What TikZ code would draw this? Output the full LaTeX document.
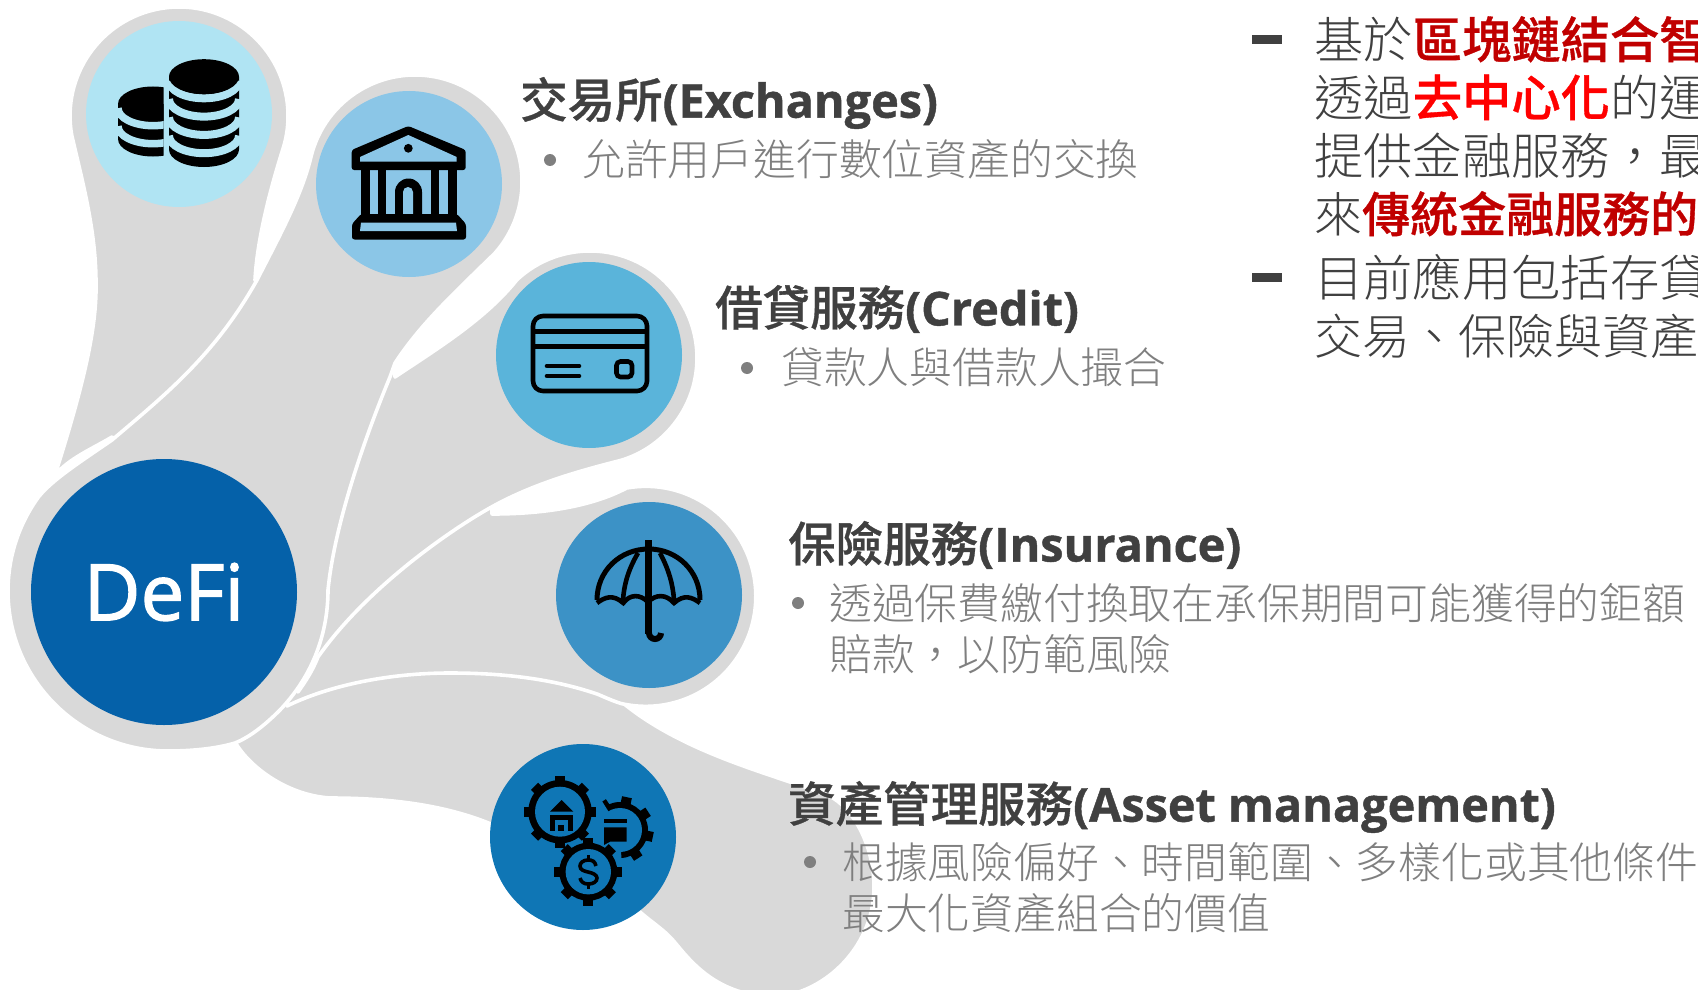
\documentclass[tikz,border=0pt]{standalone}
\usepackage{fontspec}
\setmainfont{Noto Sans CJK TC}[UprightFont=* Light,BoldFont=* Medium,BoldFeatures={FakeBold=0.7}]
\newfontfamily\latn{Open Sans}[FakeBold=0.9]
\newfontfamily\defifont{Open Sans}[FakeBold=1.6]
\definecolor{blobgrey}{HTML}{D9D9D9}
\definecolor{coinblue}{HTML}{B0E4F3}
\definecolor{bankblue}{HTML}{8BC6E7}
\definecolor{cardblue}{HTML}{5AB4DA}
\definecolor{umbblue}{HTML}{3C92C6}
\definecolor{gearblue}{HTML}{0F76B5}
\definecolor{defiblue}{HTML}{0561A9}
\definecolor{headgrey}{HTML}{404040}
\definecolor{subgrey}{HTML}{7F7F7F}
\definecolor{darkred}{HTML}{C00000}
\definecolor{purered}{HTML}{FF0000}
\tikzset{
  blob/.style={fill=blobgrey,draw=white,line width=3.6pt,line join=round},
  disc/.style={circle,minimum size=186pt,inner sep=0pt},
  head/.style={anchor=west,inner sep=0pt,text=headgrey,font=\fontsize{47.5}{56}\selectfont\bfseries},
  sub/.style={anchor=north west,inner sep=0pt,align=left,text=subgrey,font=\fontsize{42.8}{51}\selectfont},
  bigtext/.style={anchor=north west,inner sep=0pt,align=left,text=headgrey,font=\fontsize{48}{58}\selectfont},
  dot/.style={circle,fill=subgrey,minimum size=12pt,inner sep=0pt},
  dashmark/.style={fill=headgrey,minimum width=30pt,minimum height=9pt,inner sep=0pt},
}
\newcommand{\cogwheel}[6]{%
  \foreach \a in {0,45,...,315}{\draw[line width=10pt,black] (#1,#2) -- ++(\a+#6:#5);}
  \fill[black] (#1,#2) circle[radius=#3];
  \fill[gearblue] (#1,#2) circle[radius=#4];
}
\newcommand{\latnhead}[1]{{\latn\fontsize{46.8}{56}\selectfont #1}}
\newcommand{\wideline}[1]{{\fontsize{49.3}{58}\selectfont #1}}
\begin{document}
\begin{tikzpicture}[x=1pt,y=-1pt]
\useasboundingbox (0,0) rectangle (1698,990);
\clip (0,0) rectangle (1698,990);
% grey blobs
\path[blob] (55,475) .. controls (82,390) and (97,330) .. (96,283) .. controls (96,230) and (82,180) .. (71.7,134.9)
  arc[start angle=170,end angle=378,radius=109]
  .. controls (270,190) and (257,240) .. (255,280) -- (270,300) -- (130,450) -- (112,437)
  .. controls (90,450) and (70,458) .. (55,475) -- cycle;
\path[blob] (235,742) .. controls (248,765) and (285,795) .. (330,798) .. controls (390,798) and (445,805) .. (491,824)
  -- (640,912) .. controls (655,925) and (665,930) .. (677,945) .. controls (695,967) and (720,994) .. (770,997)
  .. controls (820,997) and (874,950) .. (874,887) .. controls (874,850) and (857,813) .. (833,798)
  .. controls (790,778) and (690,758) .. (623,703) -- (597,685) -- (450,660) -- (367,670) -- (287,695) -- (270,705) -- (235,735) -- cycle;
\path[blob] (492,514) .. controls (530,514) and (585,510) .. (626.7,488)
  arc[start angle=260,end angle=463,radius=110]
  .. controls (610,700) and (600,695) .. (597,694) .. controls (550,678) and (500,673) .. (450,673) .. controls (390,673) and (330,685) .. (287,706)
  -- (300,600) -- (400,500) -- (492,500) -- cycle;
\path[blob] (395,377) .. controls (435,350) and (485,320) .. (517,279.7)
  arc[start angle=227,end angle=433,radius=107]
  .. controls (575,472) and (530,485) .. (488,509) .. controls (446,533) and (365,590) .. (318,657)
  .. controls (312,672) and (305,682) .. (298,692) -- (300,500) -- (395,365) -- cycle;
\path[blob] (168,751) arc[start angle=90,end angle=216,radius=160]
  .. controls (52,480) and (80,462) .. (112,440) .. controls (165,395) and (215,355) .. (257,280)
  .. controls (280,235) and (302,195) .. (311.2,156.1) arc[start angle=194,end angle=402,radius=107]
  .. controls (450,297) and (420,325) .. (395,363) -- (390,377)
  .. controls (368,430) and (335,520) .. (328,590) .. controls (328,625) and (318,670) .. (280,710)
  .. controls (265,725) and (250,737) .. (235,743) .. controls (215,749) and (190,751) .. (168,751) -- cycle;
% discs
\node[disc,fill=coinblue] (coins) at (179,114) {};
\node[disc,fill=bankblue] (bank) at (409,184) {};
\node[disc,fill=cardblue] (card) at (589,355) {};
\node[disc,fill=umbblue] (umb) at (649,595) {};
\node[disc,fill=gearblue] (gears) at (583,837) {};
\node[circle,minimum size=266pt,inner sep=0pt,fill=defiblue,text=white,font=\fontsize{78}{90}\selectfont\defifont] (defi) at (164,592) {DeFi};
% coins icon
\begin{scope}
  \clip (100,60) rectangle (163.5,170);
  \fill[black] (118,104) -- (118,139) arc[start angle=180,end angle=0,x radius=35,y radius=17.5] -- (188,104) -- cycle;
  \fill[black] (153,104) ellipse[x radius=35,y radius=17.5];
  \foreach \yc in {108.2,126.2}{\draw[coinblue,line width=7.5pt] (118,\yc) arc[start angle=180,end angle=0,x radius=35,y radius=17.5];}
\end{scope}
\fill[black] (169,76.7) -- (169,149.5) arc[start angle=180,end angle=0,x radius=35,y radius=17.5] -- (239,76.7) -- cycle;
\foreach \yc in {80.8,99.1,117.4,135.7}{\draw[coinblue,line width=8pt] (169,\yc) arc[start angle=180,end angle=0,x radius=35,y radius=17.5];}
\fill[black] (204,76.7) ellipse[x radius=35,y radius=17.5];
% bank icon
\fill[black,rounded corners=2.5pt] (351.7,150) -- (408.3,126) -- (465.7,150) -- (465.7,170) -- (351.7,170) -- cycle;
\fill[bankblue] (360,161.7) -- (360,157) -- (408.3,135) -- (456.7,157) -- (456.7,161.7) -- cycle;
\fill[black] (408.3,148.3) circle[radius=4.4];
\foreach \xa/\xb in {361/369.5,378/386,431/439,448/457}{\fill[black] (\xa,168) rectangle (\xb,216);}
\fill[black] (395,216) -- (395,192) arc[start angle=180,end angle=360,radius=13.5] -- (422,216) -- cycle;
\fill[bankblue] (403,216) -- (403,192) arc[start angle=180,end angle=360,radius=5] -- (413,216) -- cycle;
\fill[black,rounded corners=2.5pt] (361,214) -- (457,214) -- (466,224) -- (466,239.5) -- (352,239.5) -- (352,224) -- cycle;
\fill[bankblue] (361,222.5) -- (456,222.5) -- (457,231) -- (360,231) -- cycle;
% card icon
\draw[black,line width=4.6pt,rounded corners=10pt] (533,316) rectangle (647,391);
\draw[black,line width=5pt] (533,331.5) -- (647,331.5) (533,346.5) -- (647,346.5);
\draw[black,line width=4.6pt,line cap=round] (547,366) -- (579,366) (547,376) -- (579,376);
\draw[black,line width=4.6pt,rounded corners=4pt] (616.5,361.5) rectangle (632,377);
% umbrella icon
\draw[black,line width=7pt] (648.7,540) -- (648.7,634);
\draw[black,line width=6pt] (649,633) arc[start angle=180,end angle=0,radius=6] -- (661,633);
\draw[black,line width=5pt,line join=round] (597,600) .. controls (597,571) and (620,549) .. (648.7,549) .. controls (677,549) and (700,571) .. (700,600);
\draw[black,line width=4.6pt] (597,603) .. controls (605,597) and (613,594) .. (623.3,603) .. controls (630,594) and (640,594) .. (648,602) .. controls (656,594) and (666,594) .. (674,603) .. controls (684,594) and (692,597) .. (700,603);
\draw[black,line width=4.6pt] (638,553) .. controls (628,570) and (624,585) .. (623,600) (660,553) .. controls (669,570) and (673,585) .. (674,600);
% gears icon
\cogwheel{620}{830}{28}{22}{33.5}{12}
\fill[gearblue] (620,830) -- (622,870) -- (570,870) -- (570,790) -- (595,790) -- cycle;
\cogwheel{560}{811.7}{31.7}{25}{36}{0}
\cogwheel{588.3}{871.7}{29}{22.7}{34}{0}
\fill[black] (561.7,800) -- (550,811.7) -- (573.3,811.7) -- cycle;
\fill[black] (550,815) rectangle (573.3,830.7);
\fill[gearblue] (555,820) rectangle (568.3,830.7);
\fill[black] (558.3,825) rectangle (564.3,830.7);
\fill[black] (604,819.3) rectangle (626.7,823.3);
\fill[black] (604,827.3) -- (626.7,827.3) -- (626.7,841.7) -- (610,841.7) -- (604,845) -- cycle;
\draw[black,line width=3.6pt] (596,866) .. controls (595,861) and (592,860) .. (588,860) .. controls (583,860) and (580,863) .. (580,866) .. controls (580,870) and (584,871) .. (588,872) .. controls (593,873) and (597,875) .. (597,878) .. controls (597,882) and (593,884) .. (588,884) .. controls (584,884) and (581,882) .. (580,878);
\draw[black,line width=3.6pt] (588.3,855) -- (588.3,860) (588.3,884) -- (588.3,889);
% labels
\node[head] (h1) at (520,103) {交易所\latnhead{(Exchanges)}};
\node[dot] (d1) at (550,160) {};
\node[sub] (t1) at (582,139.5) {允許用戶進行數位資產的交換};
\node[head] (h2) at (715,309) {借貸服務\latnhead{(Credit)}};
\node[dot] (d2) at (747,368) {};
\node[sub] (t2) at (781,347.5) {貸款人與借款人撮合};
\node[head] (h3) at (788,545) {保險服務\latnhead{(Insurance)}};
\node[dot] (d3) at (798,603) {};
\node[sub] (t3) at (829,583.5) {透過保費繳付換取在承保期間可能獲得的鉅額\\賠款，以防範風險};
\node[head] (h4) at (788,807) {資產管理服務\latnhead{(Asset management)}};
\node[dot] (d4) at (810,862) {};
\node[sub] (t4) at (842,842) {根據風險偏好、時間範圍、多樣化或其他條件\\最大化資產組合的價值};
% right text
\node[dashmark] (m1) at (1267,39.5) {};
\node[bigtext] (b1) at (1314,16) {\wideline{基於\textcolor{darkred}{\bfseries 區塊鏈結合智}}\\\wideline{透過\textcolor{purered}{\bfseries 去中心化}的運}\\\wideline{提供金融服務，最}\\來\textcolor{darkred}{\bfseries 傳統金融服務的}};
\node[dashmark] (m2) at (1267,277.5) {};
\node[bigtext] (b2) at (1314,254) {\wideline{目前應用包括存貸}\\交易、保險與資產};
\end{tikzpicture}
\end{document}
